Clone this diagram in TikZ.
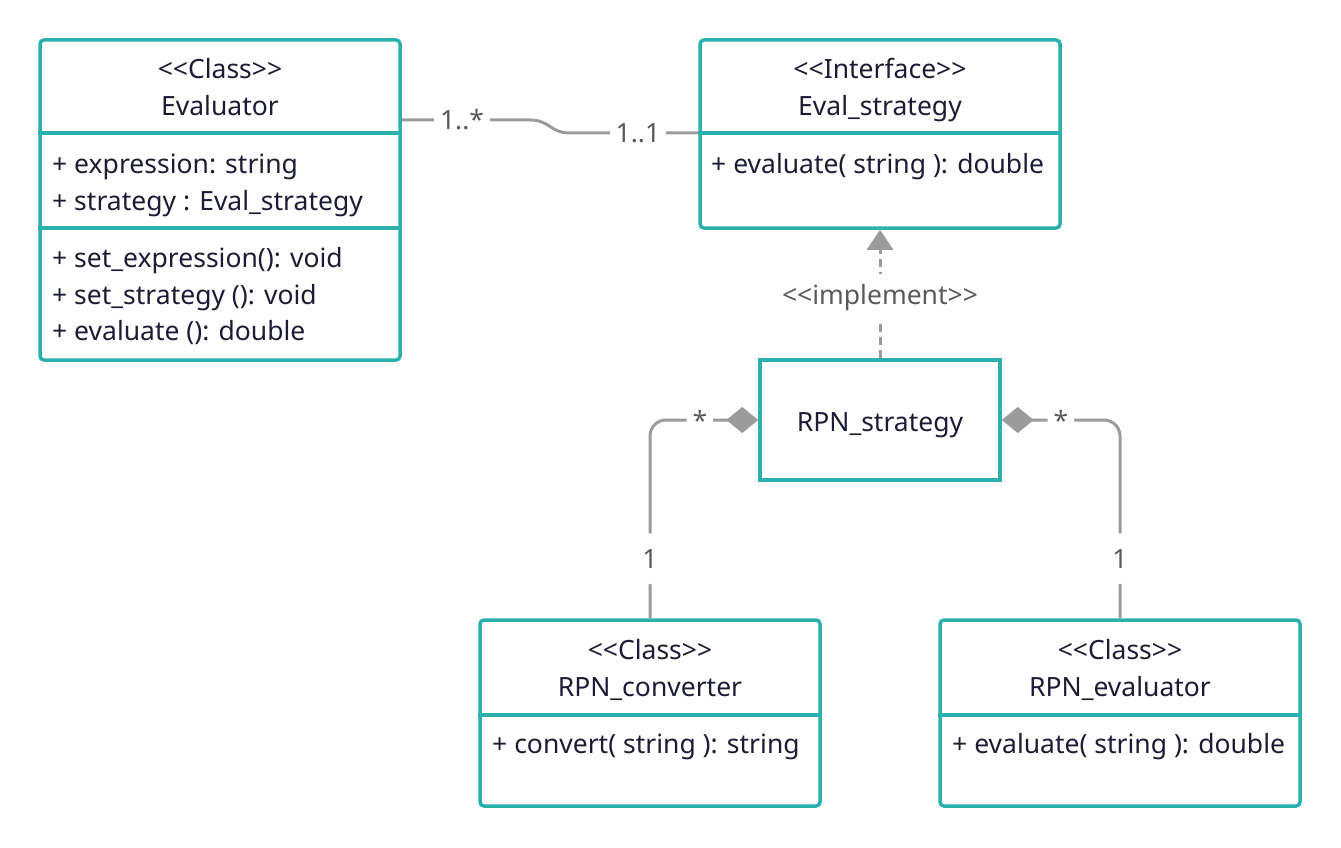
\documentclass[tikz,border=0pt]{standalone}
\usepackage{fontspec}
\setmainfont{Noto Sans}
\usetikzlibrary{arrows.meta}
\definecolor{umlteal}{HTML}{2AB1AD}
\definecolor{umlink}{HTML}{1C1C35}
\definecolor{umlwire}{HTML}{9B9B9B}
\definecolor{umlgray}{HTML}{5A5A5A}
\newcommand{\stereo}[1]{<\kern0pt<#1>\kern0pt>}
\begin{document}
\begin{tikzpicture}[x=1pt,y=-1pt,font=\fontsize{26.5}{31}\selectfont,
    cls/.style={draw=umlteal,line width=3.5pt,rounded corners=4pt,inner sep=0pt},
    sep/.style={draw=umlteal,line width=3.5pt},
    txt/.style={text=umlink,inner sep=0pt},
    mult/.style={text=umlgray,fill=white,inner xsep=6pt,inner ysep=16pt},
    link/.style={draw=umlwire,line width=3pt}]
            \useasboundingbox (0,0) rectangle (1341,848);
            \node[cls,minimum width=360,minimum height=320] (Ev) at (220,200){};
            \node[cls,minimum width=360,minimum height=188] (Es) at (880,134){};
            \node[cls,sharp corners,minimum width=240,minimum height=120] (Rs) at (880,420){};
            \node[cls,minimum width=340,minimum height=186] (Rc) at (650,713){};
            \node[cls,minimum width=360,minimum height=186] (Re) at (1120,713){};
            \draw[sep] (Ev.west |- 0,133) -- (Ev.east |- 0,133);
            \draw[sep] (Ev.west |- 0,228) -- (Ev.east |- 0,228);
            \draw[sep] (Es.west |- 0,133) -- (Es.east |- 0,133);
            \draw[sep] (Rc.west |- 0,715) -- (Rc.east |- 0,715);
            \draw[sep] (Re.west |- 0,715) -- (Re.east |- 0,715);
            \node[txt,anchor=base] (EvS) at (220,79){\stereo{Class}};
            \node[txt,anchor=base] (EvN) at (220,116){Evaluator};
            \node[txt,anchor=base west] (EvA1) at (52,173){+ expression: string};
            \node[txt,anchor=base west] (EvA2) at (52,210){+ strategy : Eval\_strategy};
            \node[txt,anchor=base west] (EvM1) at (52,267){+ set\_expression(): void};
            \node[txt,anchor=base west] (EvM2) at (52,304){+ set\_strategy (): void};
            \node[txt,anchor=base west] (EvM3) at (52,340){+ evaluate (): double};
            \node[txt,anchor=base] (EsS) at (880,79){\stereo{Interface}};
            \node[txt,anchor=base] (EsN) at (880,116){Eval\_strategy};
            \node[txt,anchor=base west] (EsM1) at (711,173){+ evaluate( string ): double};
            \node[txt,anchor=base] (RsN) at (880,431){RPN\_strategy};
            \node[txt,anchor=base] (RcS) at (650,659){\stereo{Class}};
            \node[txt,anchor=base] (RcN) at (650,696){RPN\_converter};
            \node[txt,anchor=base west] (RcM1) at (492,753){+ convert( string ): string};
            \node[txt,anchor=base] (ReS) at (1120,659){\stereo{Class}};
            \node[txt,anchor=base] (ReN) at (1120,696){RPN\_evaluator};
            \node[txt,anchor=base west] (ReM1) at (952,753){+ evaluate( string ): double};
            \draw[link] (Ev.east |- 0,120) -- (530,120) node[mult,pos=.47]{1..*} .. controls (550,120) and (550,133) .. (570,133) -- (Es.west |- 0,133) node[mult,pos=.53]{1..1};
            \draw[link,dash pattern=on 8pt off 5pt,-{Triangle[length=20pt,width=26pt]}] (Rs.north) -- (Es.south) node[midway,mult,inner ysep=11pt,yshift=-4pt]{\stereo{implement}};
            \draw[link,rounded corners=16pt,{Diamond[length=32pt,width=26pt]}-] (Rs.west) -| (Rc.north) node[mult,pos=.27]{*} node[mult,pos=.85]{1};
            \draw[link,rounded corners=16pt,{Diamond[length=32pt,width=26pt]}-] (Rs.east) -| (Re.north) node[mult,pos=.25]{*} node[mult,pos=.85]{1};
        \end{tikzpicture}
\end{document}
